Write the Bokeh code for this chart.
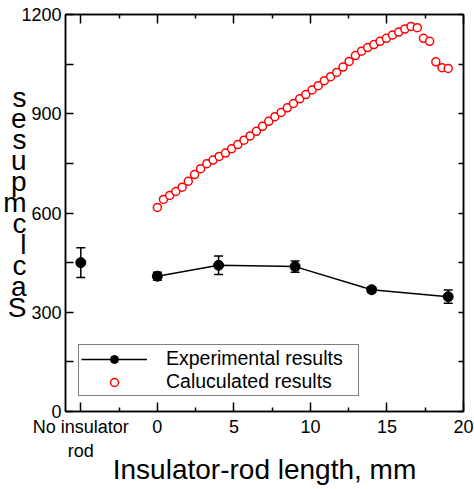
from bokeh.plotting import figure
from bokeh.models import (ColumnDataSource, FixedTicker, LinearAxis, Whisker,
                          TeeHead, Range1d, Legend, LegendItem)
from bokeh.embed import file_html
from bokeh.resources import INLINE

# ---------------- data ----------------
calc_x = [0.00, 0.40, 0.81, 1.21, 1.62, 2.02, 2.43, 2.83, 3.23, 3.64, 4.04, 4.45,
          4.85, 5.26, 5.66, 6.06, 6.47, 6.87, 7.28, 7.68, 8.09, 8.49, 8.89, 9.30,
          9.70, 10.11, 10.51, 10.91, 11.32, 11.72, 12.13, 12.53, 12.94, 13.34, 13.74, 14.15,
          14.55, 14.96, 15.36, 15.77, 16.17, 16.57, 16.98, 17.38, 17.79, 18.19, 18.60, 19.00]
calc_y = [617, 641, 653, 665, 678, 696, 716, 734, 749, 760, 771, 781,
          794, 807, 820, 833, 847, 862, 877, 891, 904, 918, 931, 945,
          958, 972, 985, 1000, 1012, 1025, 1041, 1058, 1076, 1089, 1100, 1109,
          1119, 1128, 1138, 1147, 1156, 1164, 1160, 1128, 1119, 1057, 1039, 1037]

exp_x = [0, 4, 9, 14, 19]
exp_y = [409, 442, 438, 368, 347]
exp_err = [12, 28, 17, 8, 20]

noins_x = [-5]
noins_y = [450]
noins_err = [45]

x_major = [-5, 0, 5, 10, 15, 20]
x_minor = [-2.5, 2.5, 7.5, 12.5, 17.5]
x_labels = {-5: "No insulator\nrod", 0: "0", 5: "5", 10: "10", 15: "15", 20: "20"}
y_major = [0, 300, 600, 900, 1200]
y_minor = [150, 450, 750, 1050]

x_title = "Insulator-rod length, mm"
# y-axis title as it appears: upright glyphs stacked top to bottom
y_title_chars = ["s", "e", "s", "u", "p", "m", "c", "l", "c", "a", "S"]

legend_labels = ["Experimental results", "Caluculated results"]

# ---------------- figure ----------------
W, H = 474, 489
FONT = "Liberation Sans"

p = figure(width=W, height=H, output_backend="svg", toolbar_location=None,
           x_range=Range1d(-6, 20), y_range=Range1d(0, 1200),
           min_border_left=65, min_border_right=11, min_border_top=14, min_border_bottom=78,
           x_axis_location=None, y_axis_location=None)
p.grid.visible = False
p.outline_line_color = "black"
p.outline_line_width = 1.5
p.background_fill_color = "white"
p.border_fill_color = "white"


def make_axis(ticks, minor, major_in, minor_in, labels=True):
    ax = LinearAxis()
    ax.ticker = FixedTicker(ticks=ticks, minor_ticks=minor)
    ax.major_tick_in = major_in
    ax.major_tick_out = 0
    ax.minor_tick_in = minor_in
    ax.minor_tick_out = 0
    ax.axis_line_width = 1.5
    ax.major_tick_line_width = 1.5
    ax.minor_tick_line_width = 1.5
    ax.axis_line_color = "black"
    ax.major_tick_line_color = "black"
    ax.minor_tick_line_color = "black"
    ax.major_label_text_font = FONT
    ax.major_label_text_color = "black"
    if labels:
        ax.major_label_text_font_size = "18px"
        ax.major_label_standoff = 4
    else:
        ax.major_label_overrides = {t: "" for t in ticks}
        ax.major_label_text_font_size = "8px"
        ax.major_label_standoff = 0
        ax.axis_label_standoff = 0
    return ax


xb = make_axis(x_major, x_minor, 9, 4)
xb.major_label_overrides = x_labels
xb.major_label_standoff = 5
xb.axis_label = x_title
xb.axis_label_text_font = FONT
xb.axis_label_text_font_size = "28px"
xb.axis_label_text_font_style = "normal"
xb.axis_label_text_color = "black"
xb.axis_label_standoff = -10
p.add_layout(xb, "below")

xt = make_axis(x_major, x_minor, 9, 4, labels=False)
p.add_layout(xt, "above")

yl = make_axis(y_major, y_minor, 8, 8)
yl.major_label_standoff = 4
yl.axis_label = "\n".join(y_title_chars + ["\u00a0"])
yl.axis_label_orientation = "horizontal"
yl.axis_label_text_font = FONT
yl.axis_label_text_font_size = "28px"
yl.axis_label_text_font_style = "normal"
yl.axis_label_text_color = "black"
yl.axis_label_text_line_height = 0.68
yl.axis_label_standoff = -8
p.add_layout(yl, "left")

yr = make_axis(y_major, y_minor, 5, 5, labels=False)
p.add_layout(yr, "right")

# ---------------- glyphs ----------------
src_exp = ColumnDataSource(dict(x=exp_x, y=exp_y,
                                lo=[v - e for v, e in zip(exp_y, exp_err)],
                                hi=[v + e for v, e in zip(exp_y, exp_err)]))
src_no = ColumnDataSource(dict(x=noins_x, y=noins_y,
                               lo=[v - e for v, e in zip(noins_y, noins_err)],
                               hi=[v + e for v, e in zip(noins_y, noins_err)]))
src_calc = ColumnDataSource(dict(x=calc_x, y=calc_y))

for s in (src_exp, src_no):
    w = Whisker(source=s, base="x", lower="lo", upper="hi", line_color="black", line_width=1.5,
                upper_head=TeeHead(size=9, line_color="black", line_width=1.5),
                lower_head=TeeHead(size=9, line_color="black", line_width=1.5))
    p.add_layout(w)

r_line = p.line("x", "y", source=src_exp, line_color="black", line_width=1.5)
r_pts = p.scatter("x", "y", source=src_exp, size=10, marker="circle",
                  fill_color="black", line_color="black")
p.scatter("x", "y", source=src_no, size=10, marker="circle",
          fill_color="black", line_color="black")
r_calc = p.scatter("x", "y", source=src_calc, size=8, marker="circle",
                   fill_color="white", line_color="red", line_width=1.5)

legend = Legend(items=[LegendItem(label=legend_labels[0], renderers=[r_line, r_pts]),
                       LegendItem(label=legend_labels[1], renderers=[r_calc])],
                location=(13, 15))
legend.label_text_font = FONT
legend.label_text_font_size = "19.5px"
legend.label_text_color = "black"
legend.glyph_width = 66
legend.glyph_height = 20
legend.label_height = 20
legend.label_width = 190
legend.label_standoff = 19
legend.spacing = 0
legend.padding = 2
legend.margin = 0
legend.border_line_color = "black"
legend.border_line_width = 1.5
legend.background_fill_alpha = 1.0
p.add_layout(legend, "center")

open("out.html", "w").write(file_html(p, INLINE))
